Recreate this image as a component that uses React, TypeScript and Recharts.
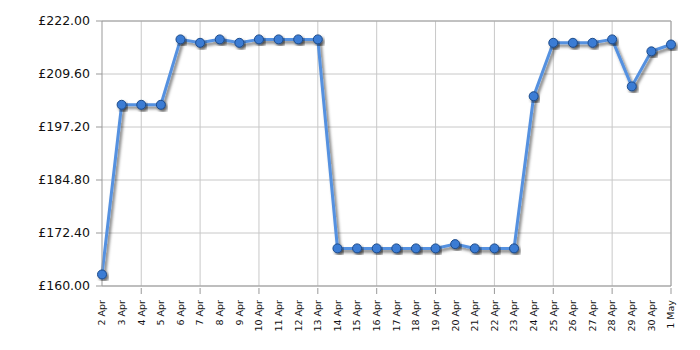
import { LineChart, Line, XAxis, YAxis, CartesianGrid, ReferenceLine } from 'recharts';

const days = [
  '2 Apr', '3 Apr', '4 Apr', '5 Apr', '6 Apr', '7 Apr', '8 Apr', '9 Apr', '10 Apr', '11 Apr',
  '12 Apr', '13 Apr', '14 Apr', '15 Apr', '16 Apr', '17 Apr', '18 Apr', '19 Apr', '20 Apr', '21 Apr',
  '22 Apr', '23 Apr', '24 Apr', '25 Apr', '26 Apr', '27 Apr', '28 Apr', '29 Apr', '30 Apr', '1 May',
];

const prices = [
  162.7, 202.4, 202.4, 202.4, 217.7, 216.9, 217.7, 216.9, 217.7, 217.7,
  217.7, 217.7, 168.8, 168.8, 168.8, 168.8, 168.8, 168.8, 169.8, 168.8,
  168.8, 168.8, 204.4, 216.9, 216.9, 216.9, 217.7, 206.7, 214.9, 216.5,
];

const yTicks = [160, 172.4, 184.8, 197.2, 209.6, 222];

// vertical grid every third day, starting at 4 Apr
const gridDays = days.filter((_, i) => i % 3 === 2);

const data = days.map((day, i) => ({ day, price: prices[i] }));

function DayTick(props: any) {
  const { x, y, payload } = props;
  const marked = payload.index % 3 === 2;
  return (
    <g>
      {marked && <line x1={x} y1={y - 6} x2={x} y2={y} stroke="#999" />}
      <text
        x={0}
        y={0}
        transform={`translate(${x},${y + 6}) rotate(-90)`}
        textAnchor="end"
        dy="0.35em"
        fontSize={9.5}
        fontFamily="DejaVu Sans"
        fill="#111"
      >
        {payload.value}
      </text>
    </g>
  );
}

export default function App() {
  return (
    <div style={{ position: 'absolute', left: 0, top: 0, width: 700, height: 350, background: '#fff' }}>
      <LineChart width={700} height={350} data={data} margin={{ top: 21, right: 29, left: 0, bottom: 0 }}>
        <defs>
          <filter id="shadow" x="-10%" y="-10%" width="130%" height="130%">
            <feDropShadow dx="2" dy="2.5" stdDeviation="1.4" floodColor="#000" floodOpacity="0.55" />
          </filter>
        </defs>
        <CartesianGrid vertical={false} stroke="#c8c8c8" />
        {gridDays.map((d) => (
          <ReferenceLine key={d} x={d} stroke="#c8c8c8" />
        ))}
        <ReferenceLine x="1 May" stroke="#a0a0a0" />
        <ReferenceLine y={222} stroke="#a0a0a0" />
        <XAxis
          dataKey="day"
          interval={0}
          height={64}
          tickLine={false}
          axisLine={{ stroke: '#999' }}
          tick={<DayTick />}
        />
        <YAxis
          domain={[160, 222]}
          ticks={yTicks}
          width={102}
          tickSize={6}
          tickMargin={6}
          axisLine={{ stroke: '#999' }}
          tickLine={{ stroke: '#999' }}
          tickFormatter={(v: number) => `£${v.toFixed(2)}`}
          tick={{ fontSize: 12.5, fontFamily: 'DejaVu Sans', fill: '#111' }}
        />
        <Line
          dataKey="price"
          stroke="#5591e0"
          strokeWidth={3}
          filter="url(#shadow)"
          dot={{ r: 4.5, fill: '#3b7bd4', stroke: '#1d4b8a', strokeWidth: 1, fillOpacity: 1 }}
          isAnimationActive={false}
        />
      </LineChart>
    </div>
  );
}
